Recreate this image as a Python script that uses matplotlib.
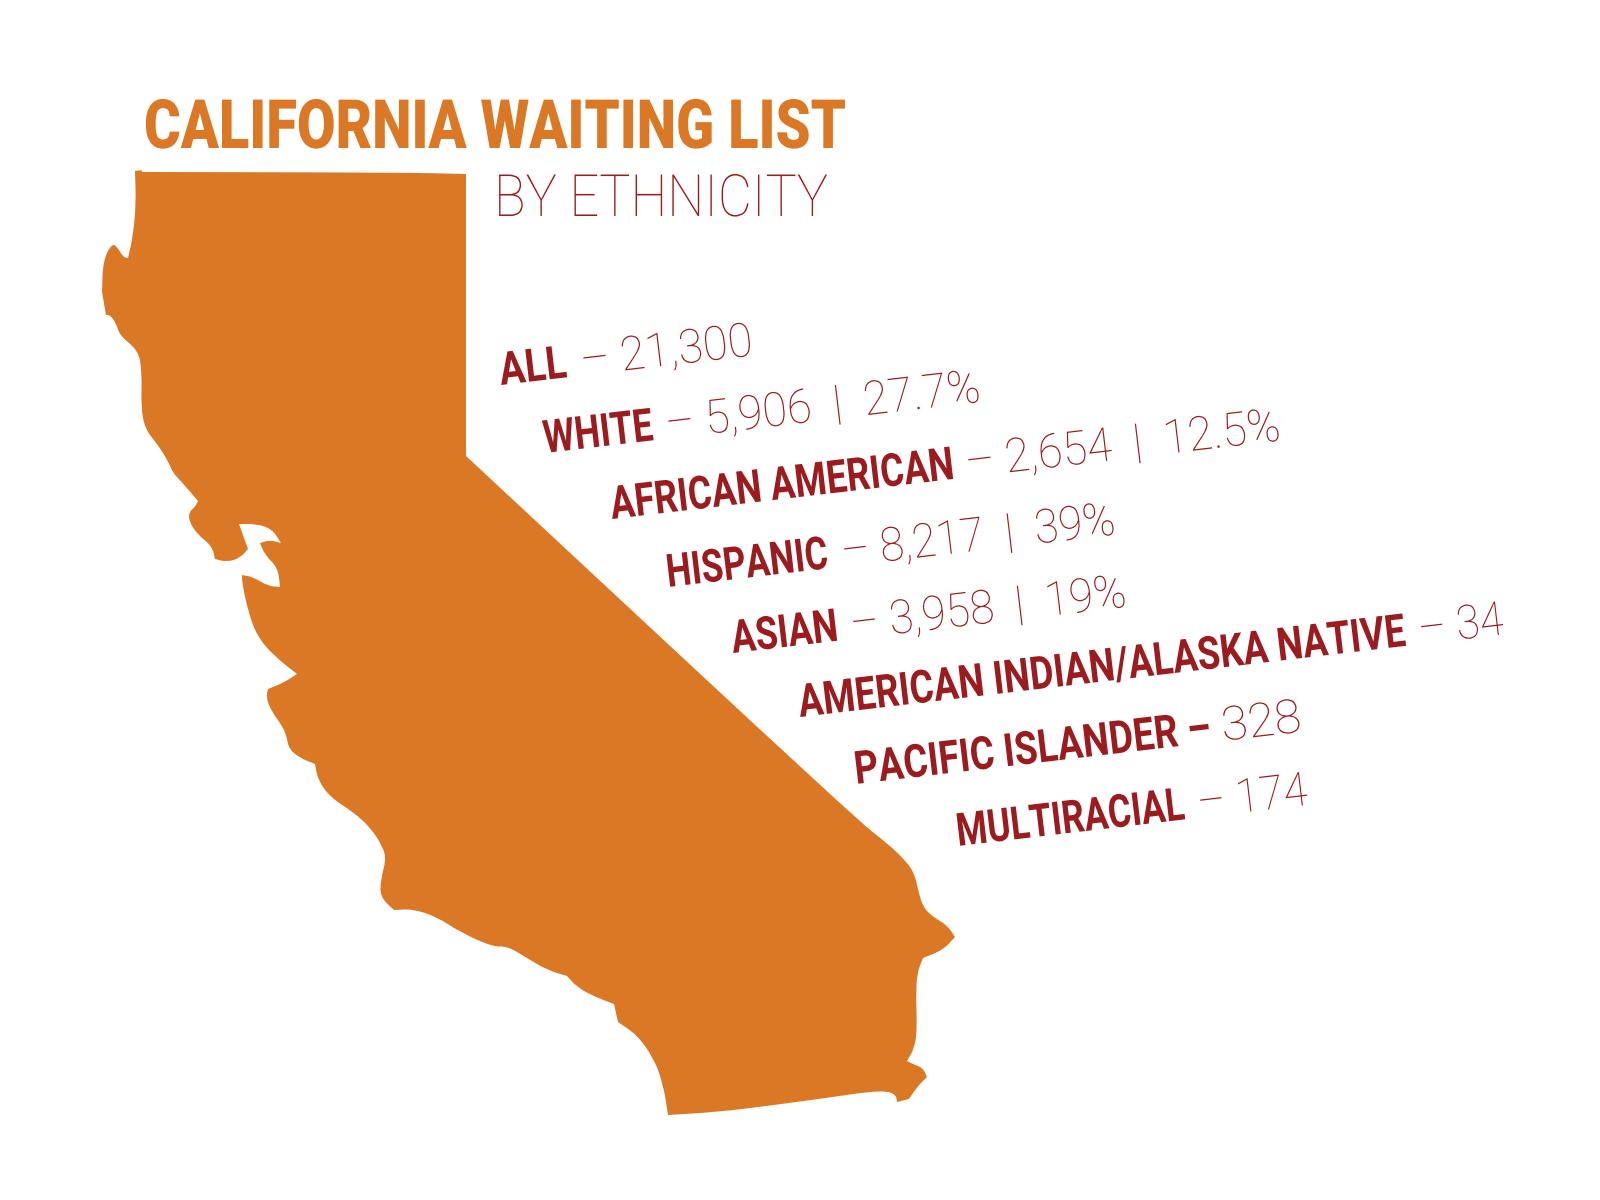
import math
import matplotlib
matplotlib.use('Agg')
import matplotlib.pyplot as plt
from matplotlib.font_manager import FontProperties
from matplotlib.patches import PathPatch
from matplotlib.path import Path
from matplotlib.patheffects import AbstractPathEffect
from matplotlib.textpath import TextPath
from matplotlib.transforms import Affine2D

ORANGE = '#DB7825'
DARKRED = '#9B1B1E'

title = 'CALIFORNIA WAITING LIST'
subtitle = 'BY ETHNICITY'
groups = ['ALL', 'WHITE', 'AFRICAN AMERICAN', 'HISPANIC', 'ASIAN',
          'AMERICAN INDIAN/ALASKA NATIVE', 'PACIFIC ISLANDER', 'MULTIRACIAL']
counts = [21300, 5906, 2654, 8217, 3958, 34, 328, 174]
shares = [None, '27.7%', '12.5%', '39%', '19%', None, None, None]

# state outline, pixels, repeated point = sharp corner
outline = [
    (135, 171), (135, 171), (142, 170), (142, 172), (142, 172), (400, 172.5), (466, 174), (466, 174),
    (466, 456), (466, 456), (857, 820), (887, 843), (907, 862), (915, 875), (918, 890), (923, 907),
    (933, 917), (947, 925), (955, 937), (955, 937), (943, 950), (923, 958), (923, 958), (917, 973),
    (916, 997), (917, 1027), (915, 1047), (907, 1061), (907, 1061), (915, 1065), (923, 1068),
    (927, 1077), (927, 1077), (917, 1087), (909, 1099), (909, 1099), (897, 1102), (897, 1102),
    (896, 1095), (887, 1091), (867, 1092), (833, 1097), (767, 1106), (717, 1112), (668, 1115),
    (668, 1115), (663, 1083), (653, 1057), (637, 1035), (618, 1022), (618, 1022), (614, 1004),
    (614, 1004), (593, 996), (577, 987), (567, 976), (567, 976), (547, 970), (527, 958), (507, 946),
    (493, 947), (460, 932), (437, 917), (413, 909), (394, 910), (394, 910), (380, 897), (381, 878),
    (386, 860), (383, 847), (370, 827), (353, 812), (330, 797), (318, 780), (315, 764), (315, 764),
    (300, 758), (289, 749), (287, 738), (283, 727), (272, 712), (266, 698), (268, 689), (268, 689),
    (283, 683), (297, 674), (297, 674), (273, 655), (257, 636), (248, 611), (242, 582), (242, 575),
    (242, 575), (253, 577), (268, 586), (280, 587), (280, 587), (278, 568), (265, 555), (260, 543),
    (260, 543), (270, 540), (281, 543), (281, 543), (272, 529), (257, 524), (239, 524), (239, 524),
    (248, 549), (248, 549), (240, 558), (227, 562), (215, 559), (215, 559), (212, 546), (197, 534),
    (189, 521), (189, 512), (195, 507), (198, 501), (198, 501), (180, 480), (173, 473), (168, 461),
    (158, 445), (145, 429), (141, 407), (142, 371), (138, 350), (120, 336), (116, 323), (110, 315),
    (106, 315), (106, 315), (102, 292), (102, 292), (103, 261), (112, 243), (118, 248), (123, 257),
    (128, 258), (128, 258), (133, 236), (136, 204), (135, 171),
]

# where each row starts on the page (label left edge, baseline), where label and value end
row_x = [501, 545, 612, 668, 733, 800, 856, 958]
row_y = [385, 453, 519, 587, 653, 717, 784, 846]
label_end = [567, 653, 953, 826, 837, 1406, 1208, 1183]
value_x = [582, 667, 967, 843, 852, 1420, 1223, 1199]
value_end = [748, 976, 1276, 1111, 1122, 1501, 1298, 1305]
tilt = 6.7


class Squeeze(AbstractPathEffect):
    # the font has no condensed cut, so narrow the glyphs along the baseline
    def __init__(self, sx):
        super().__init__()
        self.sx = sx

    def draw_path(self, renderer, gc, tpath, affine, rgbFace=None):
        renderer.draw_path(gc, tpath, Affine2D().scale(self.sx, 1) + affine, rgbFace)


def fit_text(x, y, s, end_x, size, weight, color, angle=0):
    prop = FontProperties(family='Roboto', weight=weight, size=size)
    natural = TextPath((0, 0), s, size=size, prop=prop).get_extents().width * 100 / 72
    target = (end_x - x) / math.cos(math.radians(angle))
    ax.text(x, y, s, color=color, fontproperties=prop, rotation=angle, rotation_mode='anchor',
            va='baseline', path_effects=[Squeeze(target / natural)])


def smooth_path(points):
    verts = [points[0]]
    codes = [Path.MOVETO]
    for i in range(1, len(points) - 1):
        mx = (points[i][0] + points[i + 1][0]) / 2
        my = (points[i][1] + points[i + 1][1]) / 2
        verts += [points[i], (mx, my)]
        codes += [Path.CURVE3, Path.CURVE3]
    verts += [points[-1], points[0]]
    codes += [Path.LINETO, Path.CLOSEPOLY]
    return Path(verts, codes)


fig = plt.figure(figsize=(16, 12), dpi=100)
ax = fig.add_axes([0, 0, 1, 1])
ax.set_xlim(0, 1600)
ax.set_ylim(1200, 0)
ax.axis('off')

ax.add_patch(PathPatch(smooth_path(outline), facecolor=ORANGE, edgecolor='none'))

fit_text(144, 148, title, 843, 49, 'black', ORANGE)
fit_text(494, 216, subtitle, 822, 42, 'light', DARKRED)

slope = math.tan(math.radians(tilt))
for i in range(len(groups)):
    label = groups[i]
    value = f'{counts[i]:,}'
    if label == 'PACIFIC ISLANDER':
        label += ' –'
    else:
        value = '– ' + value
    if shares[i]:
        value += '  |  ' + shares[i]
    fit_text(row_x[i], row_y[i], label, label_end[i], 33, 'bold', DARKRED, tilt)
    vy = row_y[i] - (value_x[i] - row_x[i]) * slope
    fit_text(value_x[i], vy, value, value_end[i], 34, 'light', DARKRED, tilt)

fig.savefig('out.png', dpi=100)
